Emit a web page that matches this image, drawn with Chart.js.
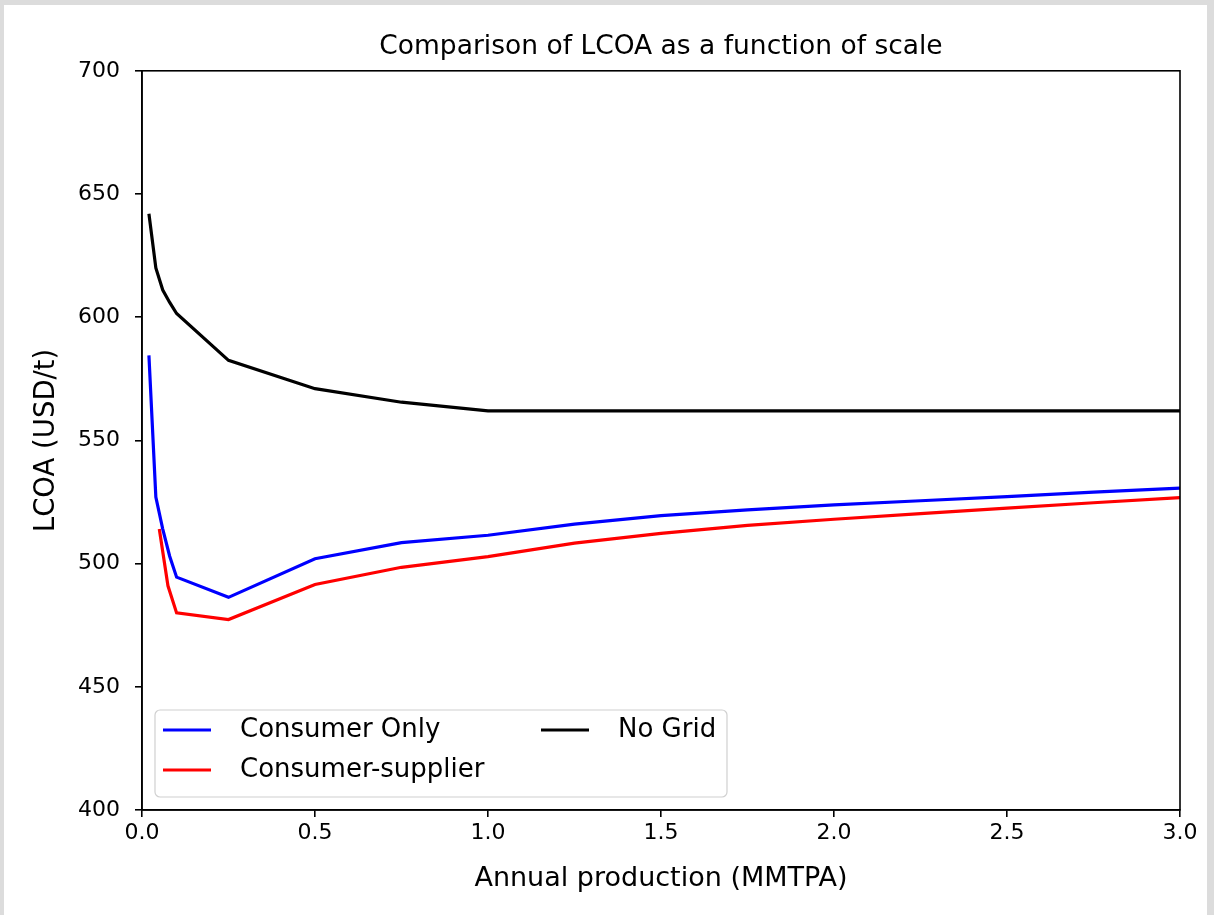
<!DOCTYPE html>
<html>
<head>
<meta charset="utf-8">
<title>Comparison of LCOA as a function of scale</title>
<script src="https://cdn.jsdelivr.net/npm/chart.js@4.4.1/dist/chart.umd.min.js"></script>
<style>
    html, body { margin: 0; padding: 0; background: #dcdcdc; overflow: hidden; }
    #wrap { position: absolute; left: 4px; top: 5px; width: 1203px; height: 910px; background: #fff; }
    #lcoaChart { display: block; }
</style>
</head>
<body>
<div id="wrap"><canvas id="lcoaChart" width="1203" height="910"></canvas></div>
<script>
// Data
const xTicks = [0, 0.5, 1.0, 1.5, 2.0, 2.5, 3.0];
const yTicks = [400, 450, 500, 550, 600, 650, 700];

const consumerOnlyX = [0.02, 0.04, 0.06, 0.08, 0.1, 0.25, 0.5, 0.75, 1.0, 1.25, 1.5, 1.75, 2.0, 2.25, 2.5, 2.75, 3.0];
const consumerOnlyY = [584.5, 527, 514, 503, 494.5, 486.3, 502, 508.5, 511.5, 516, 519.5, 521.8, 523.8, 525.5, 527.2, 529, 530.6];

const consumerSupplierX = [0.05, 0.075, 0.1, 0.25, 0.5, 0.75, 1.0, 1.25, 1.5, 1.75, 2.0, 2.25, 2.5, 2.75, 3.0];
const consumerSupplierY = [514, 491, 480, 477.3, 491.5, 498.5, 502.8, 508.3, 512.3, 515.5, 518, 520.3, 522.5, 524.7, 526.8];

const noGridX = [0.02, 0.04, 0.06, 0.08, 0.1, 0.25, 0.5, 0.75, 1.0, 1.5, 2.0, 2.5, 3.0];
const noGridY = [642, 620, 611, 606, 601.5, 582.5, 571, 565.5, 562, 562, 562, 562, 562];

const FONT = 'DejaVu Sans';

function toPoints(xs, ys) {
    return xs.map((x, i) => ({ x: x, y: ys[i] }));
}

// frame round the plot + legend box inside it (matplotlib style)
const framePlugin = {
    id: 'frame',
    afterDraw(chart) {
        const ctx = chart.ctx;
        const a = chart.chartArea;
        ctx.save();
        ctx.strokeStyle = '#000';
        ctx.lineWidth = 1.6;
        ctx.strokeRect(a.left, a.top, a.right - a.left, a.bottom - a.top);

        // legend
        const bw = 572, bh = 87;
        const bx = a.left + 13, by = a.bottom - 13 - bh;
        const r = 5;
        ctx.beginPath();
        ctx.moveTo(bx + r, by);
        ctx.arcTo(bx + bw, by, bx + bw, by + bh, r);
        ctx.arcTo(bx + bw, by + bh, bx, by + bh, r);
        ctx.arcTo(bx, by + bh, bx, by, r);
        ctx.arcTo(bx, by, bx + bw, by, r);
        ctx.closePath();
        ctx.fillStyle = 'rgba(255,255,255,0.8)';
        ctx.fill();
        ctx.strokeStyle = '#d0d0d0';
        ctx.lineWidth = 1.2;
        ctx.stroke();

        const slots = [
            { x: bx + 8, y: by + 20 },
            { x: bx + 8, y: by + 60 },
            { x: bx + 386, y: by + 20 }
        ];
        ctx.font = '26px "' + FONT + '"';
        ctx.textBaseline = 'middle';
        ctx.textAlign = 'left';
        chart.data.datasets.forEach((ds, i) => {
            const s = slots[i];
            ctx.strokeStyle = ds.borderColor;
            ctx.lineWidth = 3;
            ctx.beginPath();
            ctx.moveTo(s.x, s.y);
            ctx.lineTo(s.x + 48, s.y);
            ctx.stroke();
            ctx.fillStyle = '#000';
            ctx.fillText(ds.label, s.x + 77, s.y);
        });
        ctx.restore();
    }
};

const ctxLcoa = document.getElementById('lcoaChart').getContext('2d');

new Chart(ctxLcoa, {
    type: 'line',
    data: {
        datasets: [{
            label: 'Consumer Only',
            data: toPoints(consumerOnlyX, consumerOnlyY),
            borderColor: '#0000ff',
            borderWidth: 3.2,
            pointRadius: 0,
            tension: 0
        }, {
            label: 'Consumer-supplier',
            data: toPoints(consumerSupplierX, consumerSupplierY),
            borderColor: '#ff0000',
            borderWidth: 3.2,
            pointRadius: 0,
            tension: 0
        }, {
            label: 'No Grid',
            data: toPoints(noGridX, noGridY),
            borderColor: '#000000',
            borderWidth: 3.2,
            pointRadius: 0,
            tension: 0
        }]
    },
    options: {
        responsive: false,
        animation: false,
        layout: { padding: { left: 0, right: 27, top: 0, bottom: 0 } },
        plugins: {
            legend: { display: false },
            tooltip: { enabled: false },
            title: {
                display: true,
                fullSize: false,
                text: 'Comparison of LCOA as a function of scale',
                color: '#000',
                font: { family: FONT, size: 26.5, weight: 'normal' },
                padding: { top: 26, bottom: 8 }
            }
        },
        scales: {
            x: {
                type: 'linear',
                min: 0,
                max: 3,
                afterBuildTicks(scale) {
                    scale.ticks = xTicks.map(v => ({ value: v }));
                },
                afterFit(scale) { scale.height = 105; },
                ticks: {
                    color: '#000',
                    font: { family: FONT, size: 22 },
                    padding: 3,
                    maxRotation: 0,
                    callback: v => v.toFixed(1)
                },
                grid: {
                    drawOnChartArea: false,
                    drawTicks: true,
                    tickLength: 7,
                    color: '#000',
                    lineWidth: 1.6
                },
                border: { display: true, color: '#000', width: 1.6 },
                title: {
                    display: true,
                    text: 'Annual production (MMTPA)',
                    color: '#000',
                    font: { family: FONT, size: 27 },
                    padding: { top: 0, bottom: 20 }
                }
            },
            y: {
                type: 'linear',
                min: 400,
                max: 700,
                afterBuildTicks(scale) {
                    scale.ticks = yTicks.map(v => ({ value: v }));
                },
                afterFit(scale) { scale.width = 138; },
                ticks: {
                    color: '#000',
                    font: { family: FONT, size: 22 },
                    padding: 15
                },
                grid: {
                    drawOnChartArea: false,
                    drawTicks: true,
                    tickLength: 7,
                    color: '#000',
                    lineWidth: 1.6
                },
                border: { display: true, color: '#000', width: 1.6 },
                title: {
                    display: true,
                    text: 'LCOA (USD/t)',
                    color: '#000',
                    font: { family: FONT, size: 27.5 },
                    padding: { top: 26, bottom: 0 }
                }
            }
        }
    },
    plugins: [framePlugin]
});
</script>
</body>
</html>
